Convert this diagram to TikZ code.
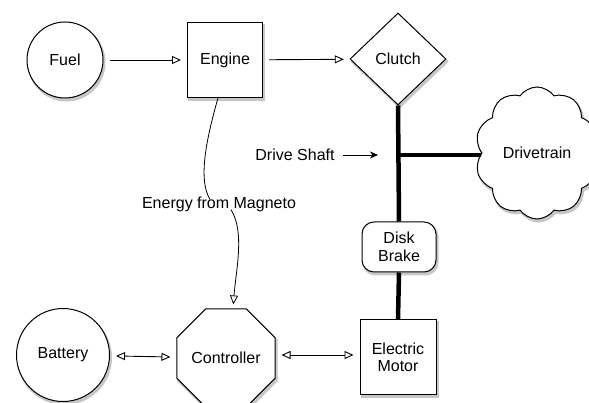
\documentclass[tikz,border=0pt]{standalone}
\usepackage{fontspec}
\setmainfont{Liberation Sans}
\usetikzlibrary{arrows.meta,shapes.geometric,shapes.symbols}
\begin{document}
\begin{tikzpicture}[x=1pt,y=-1pt,
  every node/.style={font=\fontsize{16}{19}\selectfont, align=center, inner sep=0pt},
  dshadow/.style={preaction={draw=black!22, fill=black!22, line width=2pt, transform canvas={shift={(1.5pt,-2.5pt)}}}},
  blk/.style={draw, line width=1pt, fill=white, dshadow},
  conn/.style={line width=0.9pt, -{Triangle[open, length=9pt, width=8pt]}, shorten >=6pt, shorten <=6pt},
  biconn/.style={line width=0.9pt, {Triangle[open, length=9pt, width=8pt]}-{Triangle[open, length=9pt, width=8pt]}, shorten >=6pt, shorten <=6pt},
  shaft/.style={line width=4.5pt}]
\useasboundingbox (0,0) rectangle (589,403);
\fill[white] (0,0) rectangle (589,403);

\node[blk, circle, minimum size=76pt] (fuel) at (65,60) {Fuel};
\node[blk, rectangle, minimum width=75pt, minimum height=75pt] (engine) at (225,60) {Engine};
\node[blk, diamond, minimum width=96pt, minimum height=92pt] (clutch) at (398,59) {Clutch};
\node[blk, cloud, cloud puffs=10, cloud puff arc=110, minimum width=124pt, minimum height=132pt, cloud ignores aspect] (drive) at (537,153) {Drivetrain};
\node[blk, rectangle, rounded corners=12pt, minimum width=74pt, minimum height=50pt] (brake) at (399,247) {Disk\\[-1pt]Brake};
\node[blk, rectangle, minimum width=76pt, minimum height=75pt] (motor) at (398,357) {Electric\\[-2pt]Motor};
\node[blk, regular polygon, regular polygon sides=8, minimum size=104pt] (ctrl) at (226,358) {Controller};
\node[blk, circle, minimum size=93pt] (battery) at (63,355) {Battery};

\node (mag) at (219,204) {Energy from Magneto};
\node (dslabel) at (295,155) {Drive Shaft};
\coordinate (js) at (398,155);

\draw[conn] (fuel) -- (engine);
\draw[conn] (engine) -- (clutch);
\draw[biconn] (battery) -- (ctrl);
\draw[biconn] (ctrl.east |- 0,355) -- (motor.west |- 0,355);

\draw[shaft] (clutch.south) -- (brake.north);
\draw[shaft] (js) -- (drive.west |- js);
\draw[shaft] (brake.south) -- (motor.north);
\draw[line width=0.9pt, -{Stealth[length=8pt, width=7pt, inset=2.5pt]}, shorten <=8pt, shorten >=20pt] (dslabel.east) -- (js);

\draw[line width=0.8pt] ([xshift=-7pt]engine.south) .. controls (206,140) and (198,180) .. ([xshift=-9pt,yshift=-3pt]mag.north);
\draw[line width=0.8pt, -{Triangle[open, length=9pt, width=8pt]}, shorten >=4pt] ([xshift=12pt,yshift=2pt]mag.south) .. controls (245,232) and (236,270) .. ([xshift=7pt]ctrl.north);
\end{tikzpicture}
\end{document}
